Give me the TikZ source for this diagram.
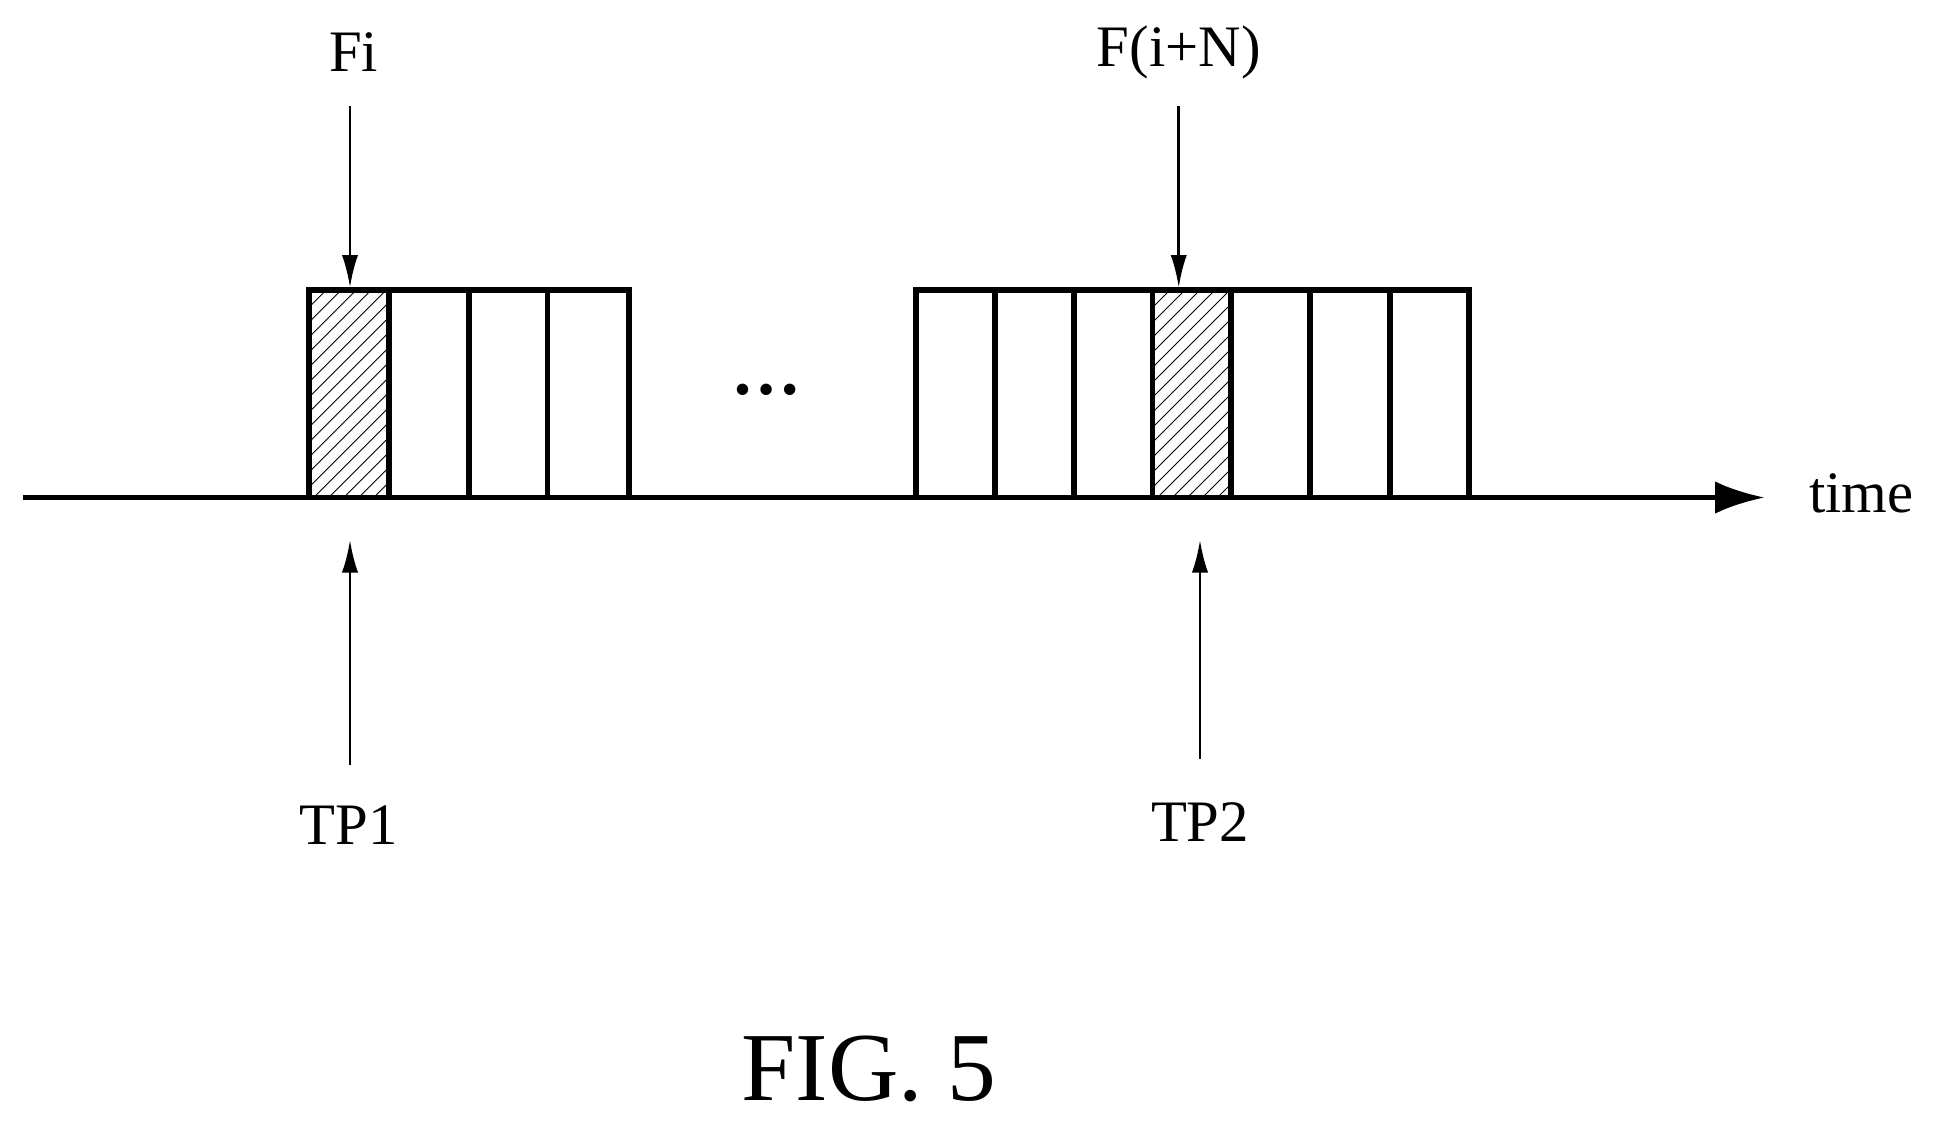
\documentclass[tikz,border=0pt]{standalone}
\usepackage{fontspec}
\setmainfont{Liberation Serif}
\usetikzlibrary{arrows.meta}
\begin{document}
\begin{tikzpicture}[x=1pt,y=-1pt,
 box/.style={line width=4.5pt},
 arr/.style={line width=2.2pt,-{Latex[length=26pt,width=13pt]}},
 lab/.style={font=\fontsize{47}{52}\selectfont,inner sep=0pt}]
\useasboundingbox (0,0) rectangle (1568,898);
% hatching
\foreach \a in {247,922}{
 \begin{scope}
 \clip (\a,232) rectangle ++(64,166);
 \foreach \k in {-200,-188,...,100} \draw[line width=0.8pt] (\a+\k,398) -- ++(200,-200);
 \end{scope}}
\draw[box] (247,232) rectangle (503,398);
\foreach \x in {311,375,438} \draw[box] (\x,232) -- (\x,398);
\draw[box] (733,232) rectangle (1175,398);
\foreach \x in {796,859,922,985,1048,1112} \draw[box] (\x,232) -- (\x,398);
\coordinate (a0) at (18,398); \coordinate (a1) at (1412,398);
\draw[line width=4.5pt,-{Latex[length=40pt,width=26pt]}] (a0) -- (a1);
\node[lab,anchor=west] (time) at (1447,395) {time};
\node[lab,font=\fontsize{56}{60}\selectfont\bfseries] (dots) at (613,312) {…};
\node[lab] (Fi) at (283,42) {Fi};
\node[lab] (FN) at (943,42) {F(i+N)};
\node[lab] (TP1) at (279,660) {TP1};
\node[lab] (TP2) at (960,658) {TP2};
\node[lab,font=\fontsize{78}{82}\selectfont] (fig) at (695,855) {FIG. 5};
\coordinate (c1) at (280,230); \coordinate (c2) at (943,230);
\coordinate (c3) at (280,432); \coordinate (c4) at (960,432);
\draw[arr] (280,85) -- (c1);
\draw[arr] (943,85) -- (c2);
\draw[arr] (280,612) -- (c3);
\draw[arr] (960,607) -- (c4);
\end{tikzpicture}
\end{document}
